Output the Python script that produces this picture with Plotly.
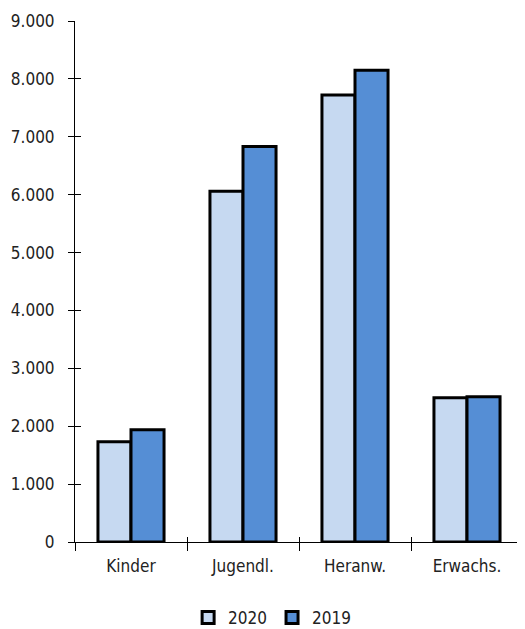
import plotly.graph_objects as go

categories = ["Kinder", "Jugendl.", "Heranw.", "Erwachs."]
values_2020 = [1730, 6060, 7720, 2490]
values_2019 = [1940, 6830, 8150, 2510]
y_ticks = [0, 1000, 2000, 3000, 4000, 5000, 6000, 7000, 8000, 9000]

FONT = "DejaVu Sans Condensed, Liberation Sans Narrow, Arial Narrow, Liberation Sans, Arial, sans-serif"
FS = 17

fig = go.Figure()
fig.add_trace(go.Bar(x=categories, y=values_2020, name="2020",
                     marker=dict(color="#C6D9F1", line=dict(color="black", width=3))))
fig.add_trace(go.Bar(x=categories, y=values_2019, name="2019",
                     marker=dict(color="#558ED5", line=dict(color="black", width=3))))
# invisible trace to anchor the secondary axes (inside ticks)
fig.add_trace(go.Bar(x=categories, y=[0, 0, 0, 0], xaxis="x2", yaxis="y2",
                     showlegend=False, hoverinfo="skip",
                     marker=dict(color="rgba(0,0,0,0)", line=dict(width=0))))

fig.update_layout(
    width=517, height=621,
    paper_bgcolor="white", plot_bgcolor="white",
    margin=dict(l=67, r=2, t=13, b=87, autoexpand=False),
    separators=",.",
    barmode="group", bargap=0.41, bargroupgap=0,
    font=dict(family=FONT, size=FS, color="#222222"),
    showlegend=True,
    legend=dict(orientation="h", x=0.44, xanchor="center", y=-0.146, yanchor="middle",
                font=dict(family=FONT, size=FS, color="#222222"),
                itemwidth=30, traceorder="normal", bgcolor="rgba(0,0,0,0)",
                tracegroupgap=0),
    xaxis=dict(type="category", tickson="boundaries", ticks="outside", ticklen=8,
               tickcolor="black", tickwidth=1, showline=True, linecolor="black",
               linewidth=1, showgrid=False, zeroline=False, automargin=False,
               ticklabelstandoff=9,
               tickfont=dict(family=FONT, size=FS, color="#222222")),
    yaxis=dict(range=[0, 9000], tickvals=y_ticks, tickformat=",d", ticks="outside",
               ticklen=6, tickcolor="black", tickwidth=1, showline=True,
               linecolor="black", linewidth=1, showgrid=False, zeroline=False,
               ticklabelstandoff=10, automargin=False,
               tickfont=dict(family=FONT, size=FS, color="#222222")),
    xaxis2=dict(type="category", overlaying="x", tickson="boundaries", ticks="inside",
                ticklen=5, tickcolor="black", showticklabels=False, showline=False,
                showgrid=False, zeroline=False, matches="x", automargin=False),
    yaxis2=dict(overlaying="y", range=[0, 9000], tickvals=y_ticks, ticks="inside",
                ticklen=6, tickcolor="black", showticklabels=False, showline=False,
                showgrid=False, zeroline=False, automargin=False),
)

fig.write_html("out.html")
